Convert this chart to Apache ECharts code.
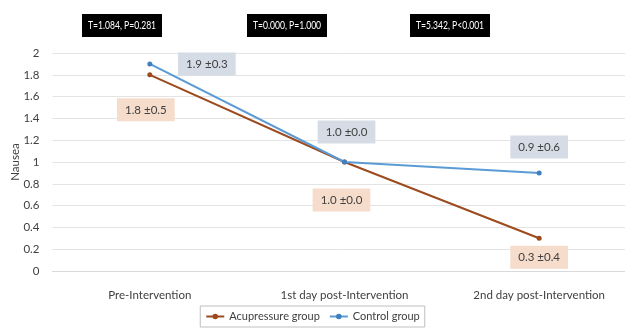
<!DOCTYPE html>
<html><head><meta charset="utf-8">
<script src="https://cdn.jsdelivr.net/npm/echarts@6/dist/echarts.min.js"></script>
<style>html,body{margin:0;padding:0;background:#fff}#c{width:625px;height:329px}</style>
</head><body><div id="c"></div>
<script>
var categories = ['Pre-Intervention', '1st day post-Intervention', '2nd day post-Intervention'];
var acupressure = [1.8, 1.0, 0.3];
var control = [1.9, 1.0, 0.9];
var acuLabels = ['1.8 \u00b10.5', '1.0 \u00b10.0', '0.3 \u00b10.4'];
var ctrlLabels = ['1.9 \u00b10.3', '1.0 \u00b10.0', '0.9 \u00b10.6'];
var stats = ['T=1.084, P=0.281', 'T=0.000, P=1.000', 'T=5.342, P<0.001'];
var yTicks = [0, 0.2, 0.4, 0.6, 0.8, 1, 1.2, 1.4, 1.6, 1.8, 2];

var FONT = 'Lato';
var acuOffsets = [[-4, 35], [-3, 38], [0, 19]];
var ctrlOffsets = [[57, 0], [2, -30], [0, -26]];
var statX = [122, 287, 450];

function mkData(vals, labels, offs, bg) {
  return vals.map(function (v, i) {
    return { value: v, label: { show: true, formatter: labels[i], position: 'inside', offset: offs[i],
      backgroundColor: bg, padding: [6, 8, 5, 8], color: '#404040', fontSize: 11.5, fontFamily: FONT } };
  });
}

var graphics = [];
stats.forEach(function (s, i) {
  graphics.push({ type: 'rect', z: 10, shape: { x: statX[i] - 40, y: 14, width: 80, height: 23 }, style: { fill: '#000' } });
  graphics.push({ type: 'text', z: 11, x: statX[i], y: 25.5, scaleX: 0.78,
    style: { text: s, fill: '#fff', fontSize: 11, fontFamily: FONT, align: 'center', verticalAlign: 'middle' } });
});

var chart = echarts.init(document.getElementById('c'));
chart.setOption({
  animation: false,
  textStyle: { fontFamily: FONT },
  grid: { left: 52.5, top: 53, width: 584, height: 218, containLabel: false, outerBoundsMode: 'none' },
  graphic: graphics,
  legend: {
    top: 306, left: 'center', itemGap: 9, itemWidth: 18, itemHeight: 7,
    borderColor: '#bfbfbf', borderWidth: 1, padding: [5, 5, 5, 5],
    textStyle: { color: '#404040', fontSize: 11, fontFamily: FONT },
    data: ['Acupressure group', 'Control group']
  },
  xAxis: {
    type: 'category', data: categories, boundaryGap: true,
    axisLine: { lineStyle: { color: '#d9d9d9' } }, axisTick: { show: false },
    axisLabel: { color: '#404040', fontSize: 11.5, margin: 18, fontFamily: FONT }
  },
  yAxis: {
    type: 'value', min: 0, max: 2, interval: 0.2,
    name: 'Nausea', nameLocation: 'middle', nameGap: 31, nameRotate: 90, nameMoveOverlap: false,
    nameTextStyle: { color: '#404040', fontSize: 11.5, fontFamily: FONT },
    axisLine: { show: false }, axisTick: { show: false },
    axisLabel: { color: '#404040', fontSize: 11.5, margin: 13, fontFamily: FONT,
      formatter: function (v) { var t = yTicks.find(function (x) { return Math.abs(x - v) < 1e-6; }); return t === undefined ? '' : String(t); } },
    splitLine: { lineStyle: { color: '#e3e3e3' } }
  },
  series: [
    { name: 'Acupressure group', type: 'line', data: mkData(acupressure, acuLabels, acuOffsets, '#f6dccb'),
      color: '#9c4a1e', symbol: 'circle', symbolSize: 5, lineStyle: { width: 2 }, z: 3 },
    { name: 'Control group', type: 'line', data: mkData(control, ctrlLabels, ctrlOffsets, '#d6dce5'),
      color: '#5b9bd5', symbol: 'circle', symbolSize: 5, itemStyle: { color: '#3f7fbf' }, lineStyle: { width: 2, color: '#5b9bd5' }, z: 4 }
  ]
});
</script></body></html>
